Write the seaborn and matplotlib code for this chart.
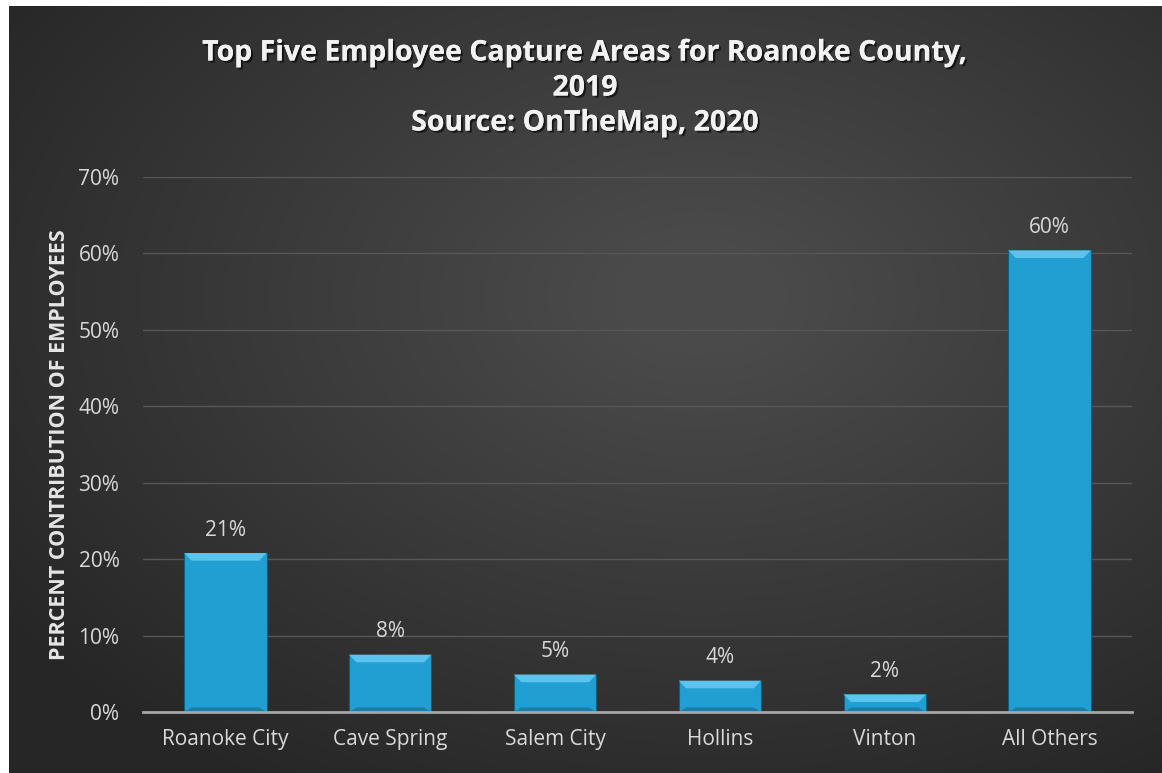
import numpy as np
import pandas as pd
import matplotlib
matplotlib.use('Agg')
import matplotlib.pyplot as plt
import matplotlib.patheffects as pe
from matplotlib.patches import Polygon
import seaborn as sns

areas = ['Roanoke City', 'Cave Spring', 'Salem City', 'Hollins', 'Vinton', 'All Others']
shares = [20.8, 7.5, 4.9, 4.1, 2.3, 60.4]
labels = ['21%', '8%', '5%', '4%', '2%', '60%']
yticks = [0, 10, 20, 30, 40, 50, 60, 70]

sns.set_style('dark')
plt.rcParams['font.family'] = ['Open Sans', 'DejaVu Sans']

df = pd.DataFrame({'Area': areas, 'Share': shares})

fig = plt.figure(figsize=(11.62, 7.73), dpi=100)
fig.patch.set_facecolor('white')

# dark radial gradient background
bg = fig.add_axes([9 / 1162, 0, 1 - 9 / 1162, 1 - 6 / 773])
yy, xx = np.mgrid[0:1:400j, 0:1:600j]
r = np.sqrt(((xx - 0.6) / 0.75) ** 2 + ((yy - 0.38) / 0.75) ** 2)
grad = np.clip(1 - r, 0, 1)
bg.imshow(grad, cmap=matplotlib.colors.LinearSegmentedColormap.from_list('g', ['#262626', '#4a4a4a']),
          aspect='auto', extent=[0, 1, 1, 0], vmin=0, vmax=0.9)
bg.axis('off')

ax = fig.add_axes([143 / 1162, 1 - 712 / 773, (1132 - 143) / 1162, (712 - 177) / 773])
ax.patch.set_alpha(0)
sns.barplot(data=df, x='Area', y='Share', color='#219fd3', width=0.5,
            edgecolor='#12607f', linewidth=0.8, saturation=1, ax=ax, zorder=3)

# bevel on top of each bar
for p in ax.patches:
    x0, w, h = p.get_x(), p.get_width(), p.get_height()
    dx, dy = w * 0.09, 1.0
    ax.add_patch(Polygon([[x0, h], [x0 + w, h], [x0 + w - dx, h - dy], [x0 + dx, h - dy]],
                         closed=True, facecolor='#5cc4ec', edgecolor='none', zorder=4))
    ax.add_patch(Polygon([[x0, 0], [x0 + w, 0], [x0 + w - dx, 0.6], [x0 + dx, 0.6]],
                         closed=True, facecolor='#1a7ea8', edgecolor='none', zorder=4))

for i, (v, lab) in enumerate(zip(shares, labels)):
    ax.text(i, v + 1.6, lab, ha='center', va='bottom', color='#d9d9d9', fontsize=15)

ax.set_ylim(0, 70)
ax.set_xlim(-0.5, 5.5)
ax.set_yticks(yticks)
ax.set_yticklabels([f'{t}%' for t in yticks])
ax.grid(axis='y', color='#575757', linewidth=1, zorder=0)
ax.grid(axis='x', visible=False)
for s in ['top', 'right', 'left']:
    ax.spines[s].set_visible(False)
ax.spines['bottom'].set_color('#a6a6a6')
ax.spines['bottom'].set_linewidth(2)
ax.spines['bottom'].set_zorder(5)
ax.tick_params(axis='both', colors='#d9d9d9', labelsize=15, length=0)
ax.tick_params(axis='y', pad=17)
ax.tick_params(axis='x', pad=12)
ax.set_xlabel('')
ax.set_ylabel('PERCENT CONTRIBUTION OF EMPLOYEES', color='#e6e6e6', fontsize=15.5,
              fontweight='bold', labelpad=6)

shadow = [pe.withSimplePatchShadow(offset=(1.5, -1.5), shadow_rgbFace='black', alpha=0.6), pe.Normal()]
titles = ['Top Five Employee Capture Areas for Roanoke County,', '2019', 'Source: OnTheMap, 2020']
for k, t in enumerate(titles):
    fig.text(585 / 1162, 1 - (53 + 35 * k) / 773, t, ha='center', va='center', color='#f2f2f2',
             fontsize=20.5, fontweight='bold', path_effects=shadow)

fig.savefig('out.png', dpi=100)
